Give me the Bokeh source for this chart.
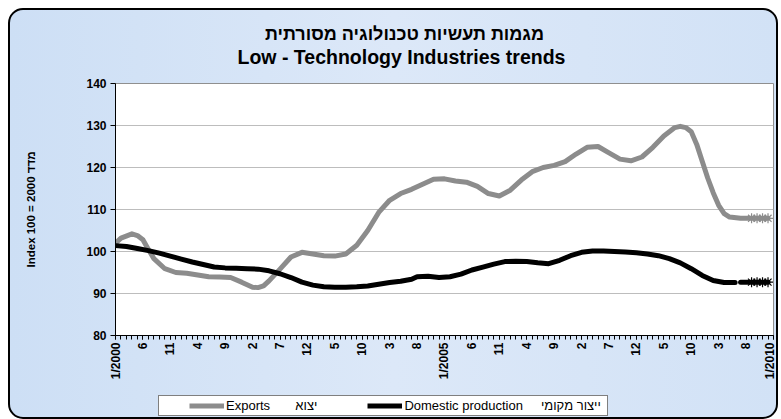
from bokeh.plotting import figure
from bokeh.layouts import column
from bokeh.models import Range1d, FixedTicker, Label, Legend, LegendItem
from bokeh.embed import file_html
from bokeh.resources import INLINE

FONT = "Liberation Sans"

# month index: 0 = 1/2000, 120 = 1/2010
export_months = [0, 1, 3, 4, 5, 6, 7, 9, 11, 13, 15, 17, 19, 21, 23, 25, 26, 27, 28, 30,
                 32, 34, 36, 38, 40, 42, 44, 46, 48, 50, 52, 54, 56, 58, 60, 62, 64, 66,
                 68, 70, 72, 74, 76, 78, 80, 82, 84, 86, 88, 90, 92, 94, 96, 98, 100, 102,
                 103, 104, 105, 106, 107, 108, 109, 110, 111, 112, 114, 116, 117, 118, 119]
export_values = [102.0, 103.2, 104.2, 103.8, 102.8, 100.5, 98.3, 95.9, 95.0, 94.8, 94.4,
                 94.0, 93.9, 93.8, 92.7, 91.5, 91.4, 91.8, 93.0, 95.8, 98.7, 99.8, 99.4,
                 99.0, 98.9, 99.4, 101.5, 105.0, 109.3, 112.2, 113.8, 114.8, 116.0, 117.2,
                 117.3, 116.8, 116.5, 115.5, 113.8, 113.2, 114.6, 117.0, 119.0, 120.0,
                 120.5, 121.4, 123.2, 124.8, 125.0, 123.5, 122.0, 121.6, 122.5, 124.8,
                 127.5, 129.5, 129.8, 129.5, 128.5, 125.5, 121.5, 117.5, 114.0, 111.0,
                 109.0, 108.2, 107.9, 107.9, 107.9, 107.9, 107.9]

domestic_months = [0, 2, 4, 6, 8, 10, 12, 14, 16, 18, 20, 22, 24, 26, 28, 30, 32, 34, 36,
                   38, 40, 42, 44, 46, 48, 50, 52, 54, 55, 57, 59, 61, 63, 65, 67, 69, 71,
                   73, 75, 77, 79, 81, 83, 85, 87, 89, 91, 93, 95, 97, 99, 101, 103, 105,
                   107, 109, 111, 113]
domestic_values = [101.4, 101.2, 100.7, 100.2, 99.6, 98.9, 98.2, 97.5, 96.9, 96.3, 96.1,
                   96.0, 95.9, 95.8, 95.4, 94.7, 93.8, 92.7, 92.0, 91.6, 91.5, 91.5, 91.6,
                   91.8, 92.2, 92.6, 92.9, 93.4, 94.0, 94.1, 93.8, 94.0, 94.6, 95.6, 96.3,
                   97.0, 97.6, 97.7, 97.6, 97.3, 97.1, 97.9, 99.0, 99.8, 100.1, 100.1,
                   100.0, 99.9, 99.7, 99.4, 99.0, 98.3, 97.3, 95.9, 94.3, 93.1, 92.6, 92.6]
domestic_tail_months = [114, 116, 117, 118, 119]
domestic_tail_values = [92.7, 92.7, 92.7, 92.7, 92.7]

marker_months = [116, 117, 118, 119]
export_marker_values = [107.9, 107.9, 107.9, 107.9]
domestic_marker_values = [92.7, 92.7, 92.7, 92.7]

tick_months = [0, 5, 10, 15, 20, 25, 30, 35, 40, 45, 50, 55, 60,
               65, 70, 75, 80, 85, 90, 95, 100, 105, 110, 115, 120]
tick_labels = ["1/2000", "6", "11", "4", "9", "2", "7", "12", "5", "10", "3", "8", "1/2005",
               "6", "11", "4", "9", "2", "7", "12", "5", "10", "3", "8", "1/2010"]
minor_months = list(range(0, 121))
y_ticks = [80, 90, 100, 110, 120, 130, 140]

NBSP = "\u00a0"
LRM = "\u200e"
title_he = LRM + "מגמות תעשיות טכנולוגיה מסורתית" + LRM
title_en = "Low - Technology Industries trends"
y_label = "Index 100 = 2000 מדד"
export_label = "Exports" + NBSP * 7 + "יצוא"
domestic_label = "Domestic production" + NBSP * 5 + "ייצור מקומי" + LRM + NBSP

GRAY = "#8c8c8c"
W = 766
FRAME_W = 658   # plot frame width shared by all strips (766 - 105 - 3)


def bare(fig):
    fig.border_fill_alpha = 0
    fig.background_fill_alpha = 0
    fig.outline_line_color = None
    fig.min_border = 0
    return fig


# ---- title strip ----
pt = bare(figure(width=W, height=65, output_backend="svg", toolbar_location=None,
                 x_range=Range1d(0, FRAME_W), y_range=Range1d(0, 65),
                 x_axis_location=None, y_axis_location=None))
pt.grid.visible = False
pt.add_layout(Label(x=289, y=41.5, text=title_he, text_font=FONT, text_font_style="bold",
                    text_font_size="18px", text_align="center", text_baseline="middle",
                    text_color="black"))
pt.add_layout(Label(x=286, y=18.5, text=title_en, text_font=FONT, text_font_style="bold",
                    text_font_size="19.5px", text_align="center", text_baseline="middle",
                    text_color="black"))

# ---- main chart ----
p = figure(width=W, height=312, output_backend="svg", toolbar_location=None,
           x_range=Range1d(0, 120), y_range=Range1d(80, 140),
           min_border_left=105, min_border_right=3, min_border_top=8, min_border_bottom=52)
p.border_fill_alpha = 0
p.background_fill_color = "white"
p.outline_line_color = "#8f8f8f"
p.outline_line_width = 1

p.xaxis.ticker = FixedTicker(ticks=tick_months, minor_ticks=minor_months)
p.xaxis.major_label_overrides = {m: l for m, l in zip(tick_months, tick_labels)}
p.xaxis.major_label_orientation = 1.5707963
p.xaxis.major_tick_in = 0
p.xaxis.major_tick_out = 4
p.xaxis.minor_tick_in = 0
p.xaxis.minor_tick_out = 4
p.xaxis.major_label_standoff = 3
p.yaxis.ticker = FixedTicker(ticks=y_ticks)
p.yaxis.major_tick_in = 0
p.yaxis.major_tick_out = 5
p.yaxis.minor_tick_out = 0
p.yaxis.minor_tick_in = 0
p.yaxis.major_label_standoff = 4
p.yaxis.axis_label = y_label
p.yaxis.axis_label_standoff = 46
for ax in (p.xaxis, p.yaxis):
    ax.axis_line_color = "black"
    ax.major_tick_line_color = "black"
    ax.minor_tick_line_color = "black"
    ax.major_label_text_font = FONT
    ax.major_label_text_font_style = "bold"
    ax.major_label_text_font_size = "12px"
    ax.major_label_text_color = "black"
    ax.axis_label_text_font = FONT
    ax.axis_label_text_font_style = "bold"
    ax.axis_label_text_font_size = "11.5px"
    ax.axis_label_text_color = "black"

p.xgrid.grid_line_color = None
p.ygrid.grid_line_color = "#bdbdbd"
p.ygrid.grid_line_width = 1

p.line(export_months, export_values, line_color=GRAY, line_width=5,
       line_join="round", line_cap="round")
p.scatter(marker_months, export_marker_values, marker="asterisk", size=10,
          line_color=GRAY, line_width=1.2)
p.line(domestic_months, domestic_values, line_color="black", line_width=5,
       line_join="round", line_cap="round")
p.line(domestic_tail_months, domestic_tail_values, line_color="black", line_width=5,
       line_join="round", line_cap="round")
p.scatter(marker_months, domestic_marker_values, marker="asterisk", size=10,
          line_color="black", line_width=1.2)

# ---- legend strip ----
pl = bare(figure(width=W, height=30, output_backend="svg", toolbar_location=None,
                 x_range=Range1d(0, 1), y_range=Range1d(0, 1),
                 x_axis_location=None, y_axis_location=None))
pl.grid.visible = False
# single-point stand-in renderers: they draw nothing, only give the legend its swatches
legend_x = [0]
legend_y = [0]
le = pl.line(legend_x, legend_y, line_color=GRAY, line_width=5)
ld = pl.line(legend_x, legend_y, line_color="black", line_width=5)
legend = Legend(items=[LegendItem(label=export_label, renderers=[le]),
                       LegendItem(label=domestic_label, renderers=[ld])],
                orientation="horizontal", location=(43, 1),
                title=" ", title_location="left", title_standoff=14,
                title_text_font_size="12px",
                label_text_font=FONT, label_text_font_size="13px",
                label_text_color="black",
                label_standoff=2, glyph_width=35, glyph_height=13,
                spacing=50, padding=2, margin=0,
                border_line_color="black", border_line_width=1,
                background_fill_color="white", background_fill_alpha=1)
pl.add_layout(legend, "center")

layout = column(pt, p, pl, spacing=0)
layout.styles = {"margin-left": "8px", "margin-top": "8px",
                 "border": "2px solid #000000", "border-radius": "15px",
                 "background": "linear-gradient(to right, #cddff5 0%, #dce8f8 50%, #d2e2f6 100%)"}

open("out.html", "w").write(file_html(layout, INLINE))
